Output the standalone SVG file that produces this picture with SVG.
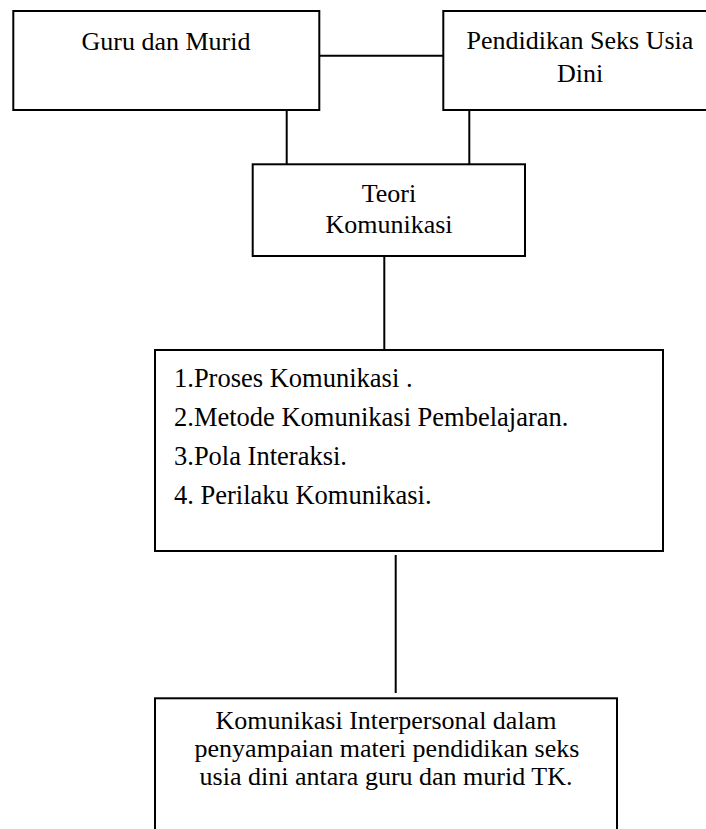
<svg xmlns="http://www.w3.org/2000/svg" width="706" height="829" viewBox="0 0 706 829">
<style>
.box{fill:#fff;stroke:#000;stroke-width:2}
.ln{stroke:#000;stroke-width:2;fill:none}
.t{font-family:'Liberation Serif','Times New Roman','DejaVu Serif',serif;font-size:26px;fill:#000}
.l{font-size:26.5px}
.c{text-anchor:middle}
</style>
<rect width="706" height="829" fill="#fff"/>
<g id="connectors">
<line class="ln" x1="320" y1="55.7" x2="443.3" y2="55.7"/>
<line class="ln" x1="286.7" y1="110" x2="286.7" y2="164.3"/>
<line class="ln" x1="469.3" y1="110" x2="469.3" y2="164.3"/>
<line class="ln" x1="384.3" y1="252" x2="384.3" y2="350"/>
<line class="ln" x1="395.7" y1="555" x2="395.7" y2="693"/>
</g>
<g id="node-guru">
<rect class="box" x="13.3" y="11" width="306" height="99"/>
<text class="t c" x="166" y="50">Guru dan Murid</text>
</g>
<g id="node-pendidikan">
<rect class="box" x="443.3" y="11" width="280" height="99"/>
<text class="t c" x="580" y="49">Pendidikan Seks Usia</text>
<text class="t c" x="580" y="82">Dini</text>
</g>
<g id="node-teori">
<rect class="box" x="252.7" y="164.3" width="272.3" height="91.7"/>
<text class="t c" x="389" y="202">Teori</text>
<text class="t c" x="389" y="233">Komunikasi</text>
</g>
<g id="node-list">
<rect class="box" x="155" y="350" width="508" height="201"/>
<text class="t l" x="174" y="387">1.Proses Komunikasi .</text>
<text class="t l" x="174" y="426">2.Metode Komunikasi Pembelajaran.</text>
<text class="t l" x="174" y="465">3.Pola Interaksi.</text>
<text class="t l" x="174" y="504">4. Perilaku Komunikasi.</text>
</g>
<g id="node-result">
<rect class="box" x="155" y="698.3" width="462" height="150"/>
<text class="t c" x="386" y="729">Komunikasi Interpersonal dalam</text>
<text class="t c" x="387" y="757">penyampaian materi pendidikan seks</text>
<text class="t c" x="386" y="785">usia dini antara guru dan murid TK.</text>
</g>
</svg>
